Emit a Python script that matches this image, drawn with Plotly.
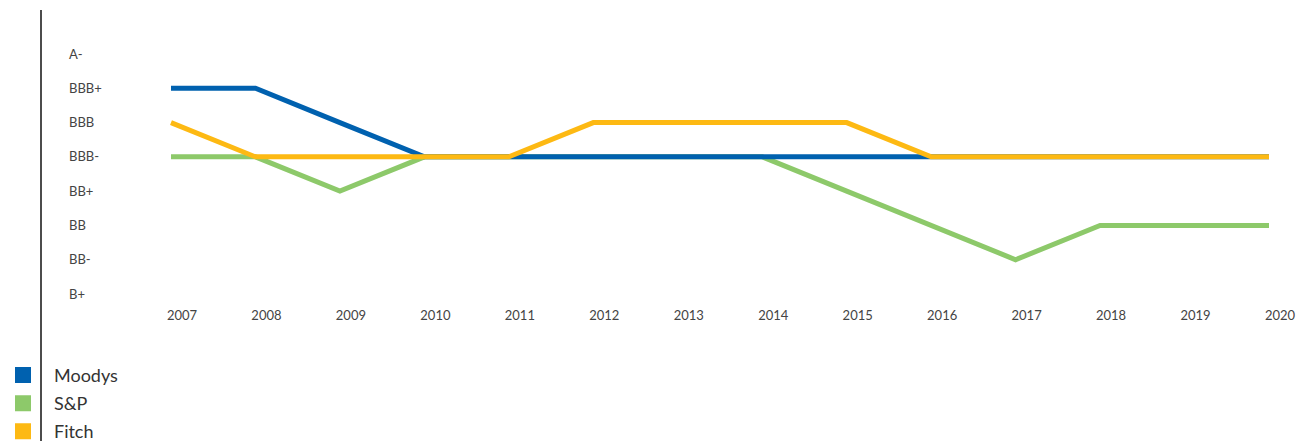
import plotly.graph_objects as go

years = list(range(2007, 2021))
ratings = ["B+", "BB-", "BB", "BB+", "BBB-", "BBB", "BBB+", "A-"]

moodys = ["BBB+", "BBB+", "BBB", "BBB-", "BBB-", "BBB-", "BBB-", "BBB-", "BBB-", "BBB-", "BBB-", "BBB-", "BBB-", "BBB-"]
sp = ["BBB-", "BBB-", "BB+", "BBB-", "BBB-", "BBB-", "BBB-", "BBB-", "BB+", "BB", "BB-", "BB", "BB", "BB"]
fitch = ["BBB", "BBB-", "BBB-", "BBB-", "BBB-", "BBB", "BBB", "BBB", "BBB", "BBB-", "BBB-", "BBB-", "BBB-", "BBB-"]

series_names = ["Moodys", "S&P", "Fitch"]
colors = {"Moodys": "#0061AF", "S&P": "#8DC96A", "Fitch": "#FDB913"}
data = {"Moodys": moodys, "S&P": sp, "Fitch": fitch}

fig = go.Figure()
# drawing order: S&P bottom, Moodys, Fitch top
for name in ["S&P", "Moodys", "Fitch"]:
    fig.add_trace(go.Scatter(x=years, y=data[name], mode="lines",
                             line=dict(color=colors[name], width=5),
                             showlegend=False, hoverinfo="skip"))

for i, name in enumerate(series_names):
    fig.add_trace(go.Scatter(x=[None], y=[None], mode="markers", name=name,
                             marker=dict(symbol="square", size=17, color=colors[name]),
                             legendgroup=f"g{i}", showlegend=True))

fig.update_layout(
    width=1309, height=441,
    margin=dict(l=66, r=9, t=30, b=135, autoexpand=False),
    paper_bgcolor="white", plot_bgcolor="white",
    font=dict(family="Lato, Arial, sans-serif", color="#444"),
    xaxis=dict(range=[2005.757, 2020.367], tickvals=years, ticktext=[str(y) for y in years],
               showgrid=False, zeroline=False, showline=False, ticks="",
               tickfont=dict(size=13, color="#444"), ticklabelshift=11, automargin=False),
    yaxis=dict(type="category", categoryorder="array", categoryarray=ratings,
               range=[-0.35, 7.7], showgrid=False, zeroline=False, showline=False,
               ticks="", ticklabelposition="inside", tickfont=dict(size=13, color="#444"),
               automargin=False),
    legend=dict(xref="paper", yref="container", x=-74 / 1234, y=0.191,
                xanchor="left", yanchor="top",
                font=dict(size=18, color="#333"), tracegroupgap=1.8, itemwidth=52,
                bgcolor="rgba(0,0,0,0)"),
    shapes=[dict(type="line", xref="paper", yref="paper",
                 x0=(41 - 66) / 1234, x1=(41 - 66) / 1234,
                 y0=(306 - 441) / 276, y1=(306 - 10) / 276,
                 line=dict(color="#111", width=1.5))],
)

fig.write_html("out.html")
